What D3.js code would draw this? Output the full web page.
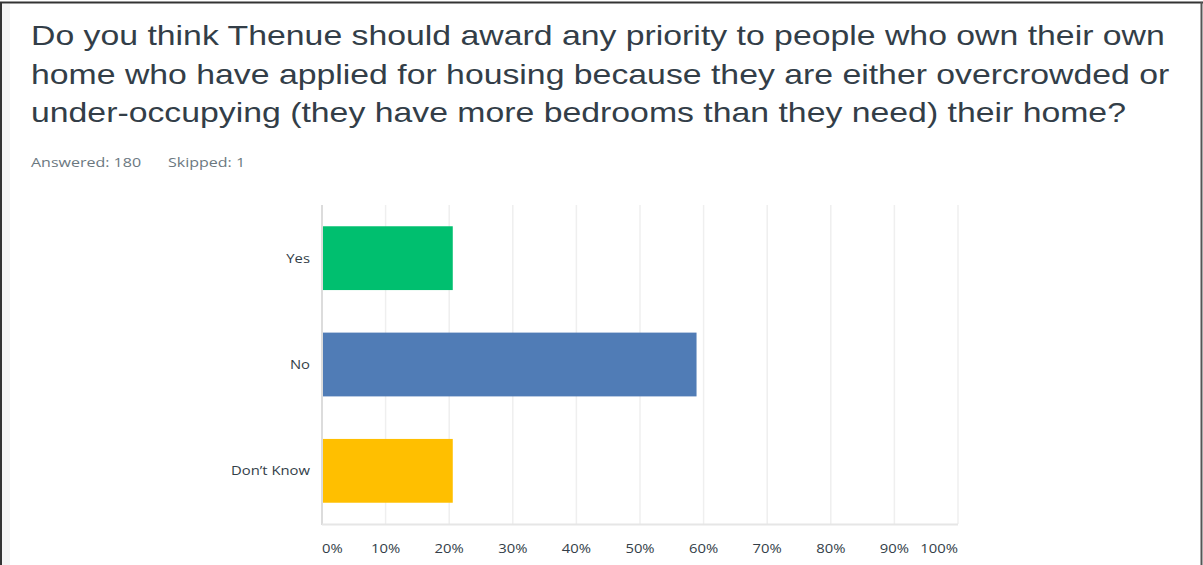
<!DOCTYPE html>
<html>
<head>
<meta charset="utf-8">
<script src="https://cdn.jsdelivr.net/npm/d3@7"></script>
<style>
  html, body { margin: 0; padding: 0; background: #fff; }
  svg { display: block; }
</style>
</head>
<body>
<svg id="chart" width="1203" height="565"></svg>
<script>
const titleLines = [
  "Do you think Thenue should award any priority to people who own their own",
  "home who have applied for housing because they are either overcrowded or",
  "under-occupying (they have more bedrooms than they need) their home?"
];
const answered = 180;
const skipped = 1;
const categories = ["Yes", "No", "Don’t Know"];
const values = [20.56, 58.89, 20.56];
const colors = ["#00bf6f", "#507cb6", "#ffbf00"];
const tickValues = [0, 10, 20, 30, 40, 50, 60, 70, 80, 90, 100];

const SX = 1.186; // horizontal stretch of the source screenshot
const svg = d3.select("#chart");

// frame
svg.append("rect").attr("x", 0).attr("y", 0).attr("width", 1203).attr("height", 565).attr("fill", "#fff");
svg.append("rect").attr("x", 2).attr("y", 4).attr("width", 8).attr("height", 561).attr("fill", "#f4f4f4");
svg.append("line").attr("x1", 0).attr("x2", 1203).attr("y1", 2.5).attr("y2", 2.5).attr("stroke", "#333").attr("stroke-width", 2);
svg.append("line").attr("x1", 1).attr("x2", 1).attr("y1", 2).attr("y2", 565).attr("stroke", "#333").attr("stroke-width", 2);
svg.append("line").attr("x1", 1201.5).attr("x2", 1201.5).attr("y1", 2).attr("y2", 565).attr("stroke", "#555").attr("stroke-width", 2);

function stretched(sel, xf, yf) {
  return sel.attr("x", 0).attr("y", 0)
    .attr("transform", (d, i) => `translate(${xf(d, i)},${yf(d, i)}) scale(${SX},1)`);
}

// title
stretched(
  svg.append("g").selectAll("text").data(titleLines).join("text"),
  () => 31, (d, i) => 45 + i * 38.5)
  .attr("font-family", "Liberation Sans, Arial, sans-serif")
  .attr("font-size", 28.5)
  .attr("fill", "#333e48")
  .text(d => d);

const meta = [["Answered: " + answered, 31], ["Skipped: " + skipped, 168]];
stretched(svg.append("g").selectAll("text").data(meta).join("text"), d => d[1], () => 167)
  .attr("font-family", "Open Sans, sans-serif").attr("font-size", 13.5).attr("fill", "#6b787f")
  .text(d => d[0]);

// scales
const x = d3.scaleLinear().domain([0, 100]).range([322, 958]);
const y = d3.scaleBand().domain(categories).range([205, 524]).paddingInner(0.4).paddingOuter(0.2);

// gridlines
svg.append("g").selectAll("line").data(tickValues.slice(1)).join("line")
  .attr("x1", d => x(d)).attr("x2", d => x(d))
  .attr("y1", 205).attr("y2", 524)
  .attr("stroke", "#efefef").attr("stroke-width", 1.5);

// axis lines
svg.append("line").attr("x1", x(0)).attr("x2", x(0)).attr("y1", 205).attr("y2", 525)
  .attr("stroke", "#dcdcdc").attr("stroke-width", 2);
svg.append("line").attr("x1", x(0)).attr("x2", x(100)).attr("y1", 524.5).attr("y2", 524.5)
  .attr("stroke", "#e6e6e6").attr("stroke-width", 2);

// bars
svg.append("g").selectAll("rect").data(categories).join("rect")
  .attr("x", x(0) + 1)
  .attr("y", d => y(d))
  .attr("width", (d, i) => x(values[i]) - x(0) - 1)
  .attr("height", y.bandwidth())
  .attr("fill", (d, i) => colors[i]);

// category labels
stretched(svg.append("g").selectAll("text").data(categories).join("text"),
  () => 310, d => y(d) + y.bandwidth() / 2)
  .attr("dy", "0.35em")
  .attr("text-anchor", "end")
  .attr("font-family", "Open Sans, sans-serif").attr("font-size", 12.5).attr("fill", "#333e48")
  .text(d => d);

// tick labels
stretched(svg.append("g").selectAll("text").data(tickValues).join("text"),
  d => x(d), () => 553)
  .attr("text-anchor", d => d === 0 ? "start" : (d === 100 ? "end" : "middle"))
  .attr("font-family", "Open Sans, sans-serif").attr("font-size", 12.5).attr("fill", "#333e48")
  .text(d => d + "%");
</script>
</body>
</html>
